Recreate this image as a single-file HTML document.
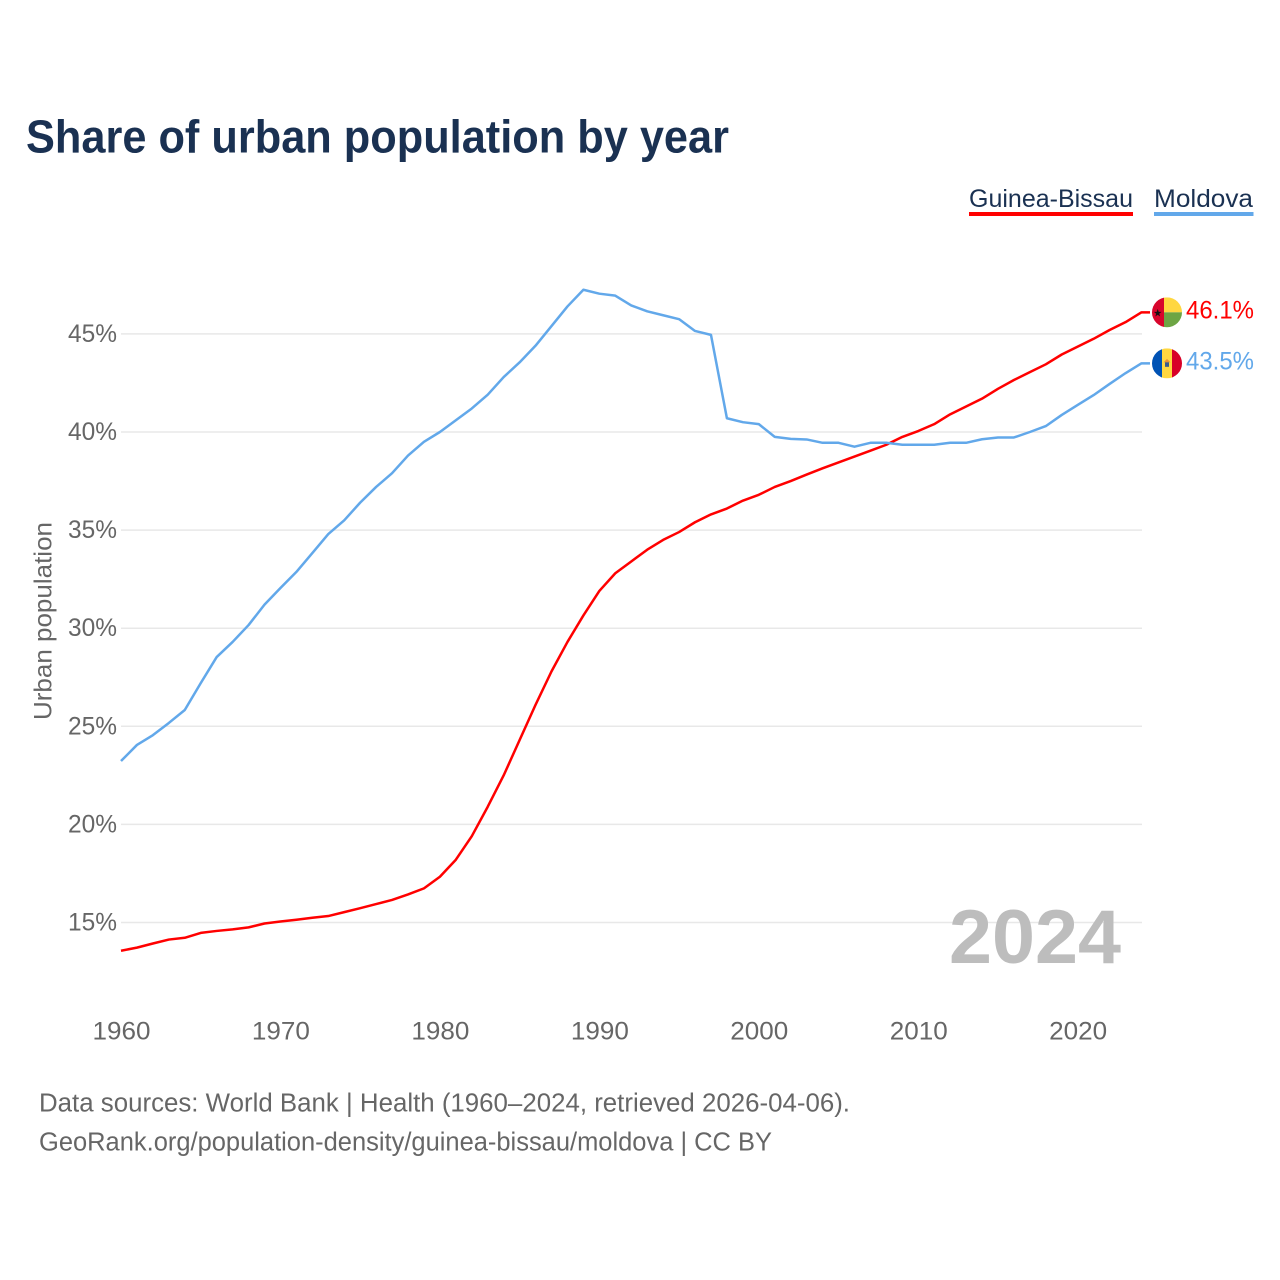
<!DOCTYPE html>
<html lang="en">
<head>
<meta charset="utf-8">
<title>Share of urban population by year</title>
<style>
html,body{margin:0;padding:0;background:#fff}
svg{display:block}
text{font-family:"Liberation Sans",sans-serif}
</style>
</head>
<body>
<svg id="chart" width="1280" height="1280" viewBox="0 0 1280 1280" xmlns="http://www.w3.org/2000/svg">
  <defs>
    <clipPath id="flag-clip-a"><circle id="clip-a" cx="1167" cy="312" r="15"></circle></clipPath>
    <clipPath id="flag-clip-b"><circle id="clip-b" cx="1167" cy="363" r="15"></circle></clipPath>
  </defs>
  <rect width="1280" height="1280" fill="#fff"></rect>
  <text x="26" y="152.5" font-size="46" font-weight="700" fill="#1a3152" textLength="703" lengthAdjust="spacingAndGlyphs">Share of urban population by year</text>

  <g>
    <g>
      <text x="969" y="207" font-size="25" fill="#1a3152" textLength="164" lengthAdjust="spacingAndGlyphs">Guinea-Bissau</text>
      <rect x="969" y="212" width="164" height="4" fill="#ff0000"></rect>
    </g>
    <g>
      <text x="1154" y="207" font-size="25" fill="#1a3152" textLength="99" lengthAdjust="spacingAndGlyphs">Moldova</text>
      <rect x="1154" y="212" width="99.5" height="4" fill="#62a8ea"></rect>
    </g>
  </g>

  <g id="grid"></g>
  <g id="y-axis"></g>
  <g id="x-axis"></g>
  <text transform="translate(51.5 621) rotate(-90)" text-anchor="middle" font-size="25" fill="#666" textLength="198" lengthAdjust="spacingAndGlyphs">Urban population</text>
  <text x="949" y="963" font-size="76" font-weight="700" fill="#bdbdbd" textLength="172" lengthAdjust="spacingAndGlyphs">2024</text>

  <g id="series"></g>

  <g id="flag-a" clip-path="url(#flag-clip-a)">
    <rect x="1152" y="297" width="12" height="30" fill="#d8052c"></rect>
    <rect x="1164" y="297" width="18" height="15" fill="#ffd740"></rect>
    <rect x="1164" y="312" width="18" height="15" fill="#6da544"></rect>
    <polygon points="1157.7,308.6 1158.7,311.5 1161.6,311.5 1159.2,313.3 1160.1,316.2 1157.7,314.4 1155.3,316.2 1156.2,313.3 1153.8,311.5 1156.7,311.5" fill="#111"></polygon>
  </g>
  <g id="flag-b" clip-path="url(#flag-clip-b)">
    <rect x="1152" y="348" width="10" height="30" fill="#0052b4"></rect>
    <rect x="1162" y="348" width="10" height="30" fill="#ffd740"></rect>
    <rect x="1172" y="348" width="10" height="30" fill="#d80027"></rect>
    <polygon points="1167,358.5 1170.5,362 1163.5,362" fill="#e8913a"></polygon>
    <rect x="1165" y="362" width="4" height="4.5" fill="#3a5a8c"></rect>
  </g>
  <g id="end-labels"></g>

  <text x="39" y="1111.5" font-size="25.5" fill="#666" textLength="811" lengthAdjust="spacingAndGlyphs">Data sources: World Bank | Health (1960–2024, retrieved 2026-04-06).</text>
  <text x="39" y="1150.5" font-size="25.5" fill="#666" textLength="733" lengthAdjust="spacingAndGlyphs">GeoRank.org/population-density/guinea-bissau/moldova | CC BY</text>
</svg>
<script>
const startYear = 1960;
const guineaBissau = [13.56,13.72,13.93,14.13,14.22,14.47,14.57,14.65,14.75,14.95,15.05,15.14,15.24,15.33,15.53,15.73,15.94,16.15,16.43,16.74,17.33,18.2,19.4,20.9,22.5,24.3,26.1,27.8,29.3,30.65,31.9,32.8,33.4,34.0,34.5,34.9,35.4,35.8,36.1,36.5,36.8,37.2,37.5,37.83,38.15,38.45,38.75,39.05,39.35,39.75,40.05,40.4,40.9,41.3,41.7,42.2,42.65,43.05,43.45,43.95,44.35,44.75,45.2,45.6,46.1];
const moldova = [23.23,24.05,24.55,25.17,25.83,27.2,28.53,29.3,30.16,31.2,32.05,32.87,33.83,34.8,35.5,36.4,37.2,37.9,38.8,39.5,40.0,40.6,41.2,41.9,42.8,43.55,44.4,45.4,46.4,47.25,47.05,46.95,46.45,46.15,45.95,45.75,45.15,44.95,40.7,40.5,40.4,39.75,39.65,39.62,39.45,39.45,39.25,39.45,39.45,39.35,39.35,39.35,39.45,39.45,39.63,39.72,39.72,40.0,40.3,40.87,41.38,41.88,42.45,43.0,43.5];
const yTicks = [15,20,25,30,35,40,45];
const xTicks = [1960,1970,1980,1990,2000,2010,2020];

const NS = 'http://www.w3.org/2000/svg';
function xScale(year){ return 121 + (year - 1960) * 15.945; }
function yScale(v){ return 922.5 - (v - 15) * 19.62; }
function make(tag, attrs, parent){
  const el = document.createElementNS(NS, tag);
  for (const k in attrs) el.setAttribute(k, attrs[k]);
  parent.appendChild(el);
  return el;
}

const grid = document.getElementById('grid');
const yAxis = document.getElementById('y-axis');
const xAxis = document.getElementById('x-axis');
const seriesGroup = document.getElementById('series');
const endLabels = document.getElementById('end-labels');

yTicks.forEach(function(t){
  const line = make('line', {x1:121, x2:1142, y1:yScale(t), y2:yScale(t), stroke:'#e8e8e8', 'stroke-width':1.5}, grid);
  
  
  const label = make('text', {x:117, y:yScale(t)+8, 'text-anchor':'end', 'font-size':25, fill:'#666', textLength:49, lengthAdjust:'spacingAndGlyphs'}, yAxis);
  label.textContent = t + '%';
  
  
});

xTicks.forEach(function(t){
  const label = make('text', {x:xScale(t)+0.5, y:1039.5, 'text-anchor':'middle', 'font-size':25, fill:'#666', textLength:58, lengthAdjust:'spacingAndGlyphs'}, xAxis);
  label.textContent = String(t);
  
  
});

function drawSeries(values, color){
  const pts = values.map(function(v, i){ return xScale(startYear + i).toFixed(2) + ',' + yScale(v).toFixed(2); });
  const last = values[values.length - 1];
  pts.push('1150,' + yScale(last).toFixed(2));
  return make('polyline', {points:pts.join(' '), fill:'none', stroke:color, 'stroke-width':2.5, 'stroke-linejoin':'round'}, seriesGroup);
}
const lineA = drawSeries(guineaBissau, '#ff0000');


const lineB = drawSeries(moldova, '#62a8ea');



function endLabel(values, color){
  const last = values[values.length - 1];
  const t = make('text', {x:1186, y:yScale(last)+6, 'font-size':25, fill:color, textLength:68, lengthAdjust:'spacingAndGlyphs'}, endLabels);
  t.textContent = last.toFixed(1) + '%';
  return t;
}
const valueA = endLabel(guineaBissau, '#ff0000');


const valueB = endLabel(moldova, '#62a8ea');



function placeFlag(groupId, clipId, values, baseY){
  const dy = yScale(values[values.length - 1]) - baseY;
  document.getElementById(groupId).setAttribute('transform', 'translate(0 ' + dy.toFixed(2) + ')');
}
placeFlag('flag-a', 'clip-a', guineaBissau, 312);
placeFlag('flag-b', 'clip-b', moldova, 363);
</script>
</body>
</html>
